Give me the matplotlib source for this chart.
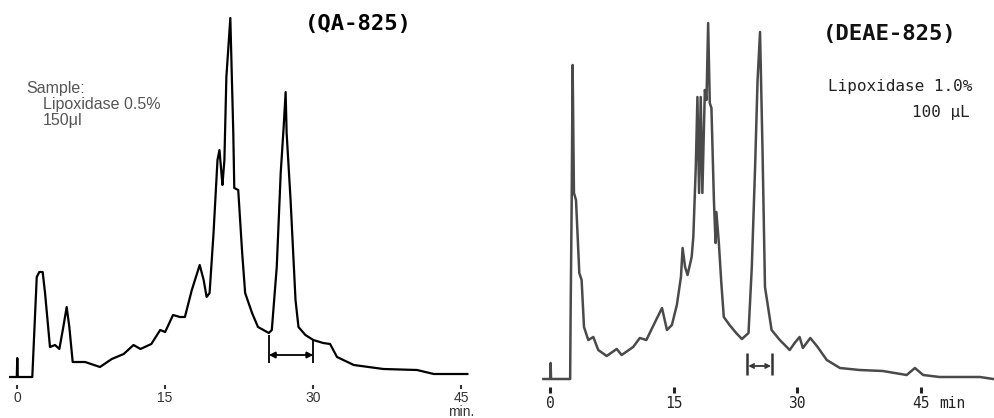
import numpy as np
from matplotlib import pyplot as plt

# retention time (min) and detector response (arbitrary units)
qa_time = [-0.7, -0.02, 0.03, 0.08, 1.55, 2.0, 2.26, 2.6, 2.84, 3.34, 3.85, 4.29, 4.69, 5.03, 5.3,
           5.64, 6.9, 8.4, 9.6, 10.8, 11.8, 12.5, 13.6, 14.5, 15.0, 15.8, 16.5, 17.0, 17.7, 18.5,
           18.9, 19.2, 19.5, 19.9, 20.3, 20.5, 20.7, 20.8, 21.0, 21.2, 21.6, 21.9, 22.0, 22.4,
           22.8, 23.1, 23.8, 24.4, 25.5, 25.8, 26.3, 26.7, 27.0, 27.2, 27.3, 27.7, 28.2, 28.5,
           29.2, 30.0, 31.0, 31.7, 32.4, 34.1, 37.1, 40.5, 42.2, 45.6]
qa_signal = [0, 0, 19, 0, 0, 100, 105, 105, 84, 30, 32, 28, 50, 70, 50,
             15, 15, 10, 18, 23, 32, 28, 33, 47, 45, 62, 60, 60, 87, 112,
             97, 80, 84, 144, 217, 227, 204, 192, 217, 300, 359, 244, 189, 187,
             124, 84, 64, 50, 44, 47, 110, 204, 250, 285, 244, 177, 77, 50,
             42, 37, 34, 33, 20, 12, 8, 7, 3, 3]

deae_time = [-0.8, 0.03, 0.08, 0.13, 2.45, 2.5, 2.63, 2.75, 2.91, 3.16, 3.56, 3.84, 4.13, 4.65,
             5.26, 5.86, 6.88, 8.1, 8.7, 10.1, 10.9, 11.7, 12.7, 13.6, 14.2, 14.8, 15.4, 15.9,
             16.1, 16.4, 16.7, 17.2, 17.4, 17.7, 17.9, 18.1, 18.3, 18.5, 18.8, 19.0, 19.2, 19.4,
             19.6, 19.9, 20.1, 20.2, 20.5, 20.8, 21.1, 21.8, 22.6, 23.3, 24.1, 24.5, 24.9, 25.2,
             25.5, 25.8, 26.1, 26.9, 27.9, 29.1, 29.7, 30.3, 30.7, 31.6, 32.4, 33.6, 35.2, 37.6,
             40.4, 43.3, 44.3, 45.3, 47.3, 52.2, 53.8]
deae_signal = [0, 0, 16, 0, 0, 59, 172, 314, 186, 179, 106, 99, 52, 39,
               42, 29, 23, 30, 24, 32, 41, 39, 56, 71, 49, 54, 74, 102,
               131, 112, 104, 122, 142, 212, 282, 186, 282, 186, 289, 279, 356, 276,
               271, 179, 136, 167, 136, 96, 62, 54, 46, 40, 46, 112, 212, 299,
               347, 229, 92, 49, 39, 29, 36, 42, 31, 41, 33, 19, 11, 9,
               8, 4, 11, 4, 2, 2, 0]

tick_min = [0, 15, 30, 45]
tick_labels = ["0", "15", "30", "45"]

# collected fraction ranges (min)
qa_fraction = [25.5, 30.0]
deae_fraction = [23.9, 27.0]

fig = plt.figure(figsize=(9.94, 4.18), dpi=100)

# ---- QA-825 column ----
ax1 = fig.add_axes([0.0, 0.0, 0.5, 1.0])
ax1.set_xlim(-1.72, 48.6)
ax1.set_ylim(-41, 377)
ax1.axis("off")
ax1.plot(qa_time, qa_signal, color="black", linewidth=1.6, solid_joinstyle="round")
ax1.vlines(tick_min, -12, -8, color="#333333", linewidth=1.5)
for t, lab in zip(tick_min, tick_labels):
    ax1.text(t, -21, lab, ha="center", va="center", fontsize=10,
             family="Liberation Sans", color="#333333")
ax1.text(45, -35, "min.", ha="center", va="center", fontsize=10,
         family="Liberation Sans", color="#333333")
ax1.vlines(qa_fraction[0], 14, 42, color="black", linewidth=1.3)
ax1.vlines(qa_fraction[1], 14, 37, color="black", linewidth=1.3)
ax1.annotate("", xy=(qa_fraction[1], 22), xytext=(qa_fraction[0], 22),
             arrowprops=dict(arrowstyle="<|-|>", color="black", lw=1.3,
                             mutation_scale=9, shrinkA=0, shrinkB=0))
ax1.text(34.6, 353, "(QA-825)", ha="center", va="center", fontsize=16,
         family="DejaVu Sans Mono", fontweight="bold")
ax1.text(0.9, 289, "Sample:", ha="left", va="center", fontsize=11.5,
         family="Liberation Sans", color="#555555")
ax1.text(2.6, 272, "Lipoxidase 0.5%", ha="left", va="center", fontsize=11.5,
         family="Liberation Sans", color="#555555")
ax1.text(2.6, 256, "150\u03bcl", ha="left", va="center", fontsize=11.5,
         family="Liberation Sans", color="#555555")

# ---- DEAE-825 column ----
ax2 = fig.add_axes([0.5, 0.0, 0.5, 1.0])
ax2.set_xlim(-6.43, 53.9)
ax2.set_ylim(-39, 379)
ax2.axis("off")
ax2.plot(deae_time, deae_signal, color="#4a4a4a", linewidth=1.8, solid_joinstyle="round")
ax2.vlines(tick_min, -14, -8, color="#222222", linewidth=2.2)
for t, lab in zip(tick_min, tick_labels):
    ax2.text(t, -24, lab, ha="center", va="center", fontsize=10.5,
             family="DejaVu Sans Mono", color="#222222")
ax2.text(47.3, -24, "min", ha="left", va="center", fontsize=10.5,
         family="DejaVu Sans Mono", color="#222222")
ax2.vlines(deae_fraction, 4, 26, color="#333333", linewidth=1.8)
ax2.annotate("", xy=(deae_fraction[1], 13), xytext=(deae_fraction[0], 13),
             arrowprops=dict(arrowstyle="<->", color="#333333", lw=1.3,
             mutation_scale=7, shrinkA=1, shrinkB=1))
ax2.text(41.3, 345, "(DEAE-825)", ha="center", va="center", fontsize=16,
         family="DejaVu Sans Mono", fontweight="bold", color="#111111")
ax2.text(51.3, 292, "Lipoxidase 1.0%", ha="right", va="center", fontsize=11.5,
         family="DejaVu Sans Mono", color="#222222")
ax2.text(51.0, 266, "100 \u03bcL", ha="right", va="center", fontsize=11.5,
         family="DejaVu Sans Mono", color="#222222")

fig.savefig("out.png", dpi=100)
